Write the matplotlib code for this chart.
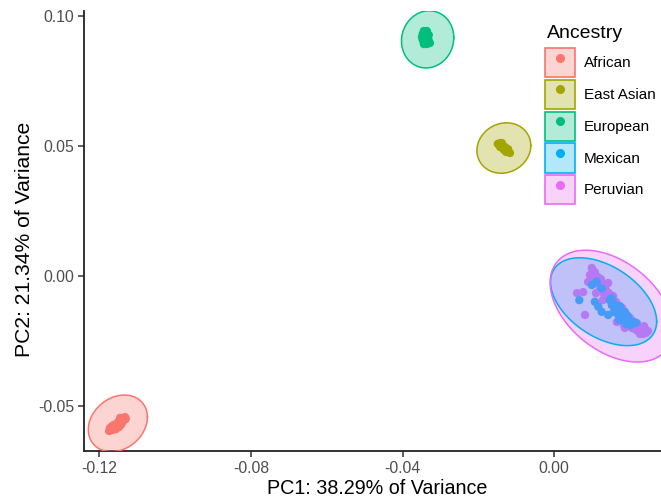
import numpy as np
import matplotlib
matplotlib.use("Agg")
import matplotlib.pyplot as plt
from matplotlib.patches import Patch
from matplotlib.lines import Line2D
from matplotlib.legend_handler import HandlerTuple
from matplotlib.colors import to_rgba

plt.rcParams['font.family'] = ['Liberation Sans', 'DejaVu Sans']
plt.rcParams['axes.unicode_minus'] = False

# ---------------- data ----------------
groups = ["African", "East Asian", "European", "Mexican", "Peruvian"]
colors = ["#F8766D", "#A3A500", "#00BF7D", "#00B0F6", "#E76BF3"]

african_pc1 = [-0.1169, -0.1164, -0.1159, -0.1161, -0.1153, -0.1148, -0.1151, -0.1145, -0.1140,
               -0.1143, -0.1137, -0.1132, -0.1135, -0.1156, -0.1166, -0.1148, -0.1140,
               -0.1174, -0.1172, -0.1151, -0.1143, -0.1130, -0.1145, -0.1164]
african_pc2 = [-0.0594, -0.0586, -0.0582, -0.0574, -0.0574, -0.0570, -0.0563, -0.0559, -0.0559,
               -0.0551, -0.0547, -0.0544, -0.0555, -0.0590, -0.0578, -0.0582, -0.0567,
               -0.0597, -0.0586, -0.0578, -0.0574, -0.0551, -0.0547, -0.0593]

eastasian_pc1 = [-0.0149, -0.0143, -0.0138, -0.0143, -0.0135, -0.0130, -0.0133, -0.0125, -0.0120,
                 -0.0127, -0.0122, -0.0138, -0.0117]
eastasian_pc2 = [0.0507, 0.0510, 0.0503, 0.0495, 0.0491, 0.0495, 0.0484, 0.0484, 0.0476,
                 0.0476, 0.0487, 0.0510, 0.0472]

european_pc1 = [-0.0344, -0.0336, -0.0347, -0.0339, -0.0331, -0.0349, -0.0341, -0.0333, -0.0347,
                -0.0339, -0.0331, -0.0344, -0.0336, -0.0328, -0.0341]
european_pc2 = [0.0941, 0.0941, 0.0930, 0.0930, 0.0926, 0.0918, 0.0918, 0.0914, 0.0907,
                0.0903, 0.0903, 0.0891, 0.0891, 0.0895, 0.0910]

mexican_pc1 = [0.0099, 0.0112, 0.0125, 0.0066, 0.0107, 0.0116, 0.0125, 0.0142, 0.0151, 0.0156,
               0.0173, 0.0182, 0.0195, 0.0208, 0.0186, 0.0169, 0.0178, 0.0164, 0.0146, 0.0191, 0.0200,
               0.0152, 0.0163, 0.0157, 0.0173, 0.0184, 0.0194, 0.0200, 0.0189, 0.0215, 0.0171]
mexican_pc2 = [-0.0036, -0.0023, -0.0049, -0.0094, -0.0100, -0.0119, -0.0139, -0.0151, -0.0087, -0.0106,
               -0.0132, -0.0158, -0.0170, -0.0177, -0.0139, -0.0151, -0.0170, -0.0119, -0.0094, -0.0183, -0.0190,
               -0.0113, -0.0124, -0.0140, -0.0117, -0.0147, -0.0155, -0.0178, -0.0186, -0.0182, -0.0170]

peruvian_pc1 = [0.0099, 0.0107, 0.0094, 0.0115, 0.0105, 0.0126, 0.0121, 0.0136, 0.0131, 0.0147,
                0.0157, 0.0152, 0.0168, 0.0179, 0.0173, 0.0189, 0.0200, 0.0194, 0.0210, 0.0221,
                0.0216, 0.0231, 0.0242, 0.0237, 0.0165, 0.0184, 0.0226, 0.0089, 0.0142, 0.0110,
                0.0060, 0.0076, 0.0081, 0.0128, 0.0205,
                0.0102, 0.0113, 0.0123, 0.0118, 0.0134, 0.0128, 0.0144, 0.0139, 0.0150, 0.0163,
                0.0160, 0.0171, 0.0181, 0.0176, 0.0192, 0.0202, 0.0208, 0.0218, 0.0229, 0.0239,
                0.0223, 0.0234, 0.0247, 0.0186, 0.0155]
peruvian_pc2 = [0.0030, 0.0014, 0.0003, -0.0005, -0.0017, -0.0028, -0.0047, -0.0055, -0.0070, -0.0078,
                -0.0094, -0.0113, -0.0113, -0.0124, -0.0147, -0.0147, -0.0163, -0.0182, -0.0178, -0.0194,
                -0.0209, -0.0209, -0.0220, -0.0194, -0.0178, -0.0190, -0.0224, -0.0024, -0.0028, -0.0067,
                -0.0067, -0.0063, -0.0151, -0.0094, -0.0201,
                0.0003, -0.0020, -0.0013, -0.0036, -0.0043, -0.0059, -0.0067, -0.0086, -0.0097, -0.0101,
                -0.0128, -0.0136, -0.0140, -0.0163, -0.0167, -0.0174, -0.0190, -0.0182, -0.0197, -0.0205,
                -0.0213, -0.0224, -0.0213, -0.0201, -0.0078]

pc1_values = [african_pc1, eastasian_pc1, european_pc1, mexican_pc1, peruvian_pc1]
pc2_values = [african_pc2, eastasian_pc2, european_pc2, mexican_pc2, peruvian_pc2]
point_order = [0, 1, 2, 4, 3]   # Mexican points sit on top of Peruvian points

# ellipse summaries per group: centre, half-extent in x and y, correlation
ell_cx = [-0.1151, -0.0133, -0.0334, 0.0130, 0.0151]
ell_cy = [-0.0568, 0.0491, 0.0909, -0.0100, -0.0117]
ell_wx = [0.0078, 0.0071, 0.0069, 0.0140, 0.0162]
ell_wy = [0.0109, 0.0097, 0.0110, 0.0169, 0.0215]
ell_r = [0.22, 0.10, 0.06, -0.45, -0.42]

xticks = [-0.12, -0.08, -0.04, 0.00]
yticks = [-0.05, 0.00, 0.05, 0.10]
xlabel = "PC1: 38.29% of Variance"
ylabel = "PC2: 21.34% of Variance"
legend_title = "Ancestry"

# ---------------- figure ----------------
W, H = 661, 500
fig = plt.figure(figsize=(W / 100, H / 100), dpi=100)
ax = fig.add_axes([84 / W, 49 / H, (671 - 84) / W, (451 - 11) / H])

for i in point_order:
    ax.scatter(pc1_values[i], pc2_values[i], s=36, color=colors[i], edgecolors='none', zorder=2)

t = np.linspace(0, 2 * np.pi, 300)
for cx, cy, wx, wy, r, c in zip(ell_cx, ell_cy, ell_wx, ell_wy, ell_r, colors):
    ex = cx + wx * np.cos(t)
    ey = cy + wy * (r * np.cos(t) + np.sqrt(1 - r * r) * np.sin(t))
    ax.fill(ex, ey, facecolor=to_rgba(c, 0.3), edgecolor='none', zorder=3)
    ax.plot(ex, ey, color=c, lw=1.1, zorder=4)

ax.set_xlim(-0.12403, 0.03078)
ax.set_ylim(-0.06742, 0.10181)
ax.set_xticks(xticks)
ax.set_yticks(yticks)
ax.set_xticklabels([f"{v:.2f}" for v in xticks])
ax.set_yticklabels([f"{v:.2f}" for v in yticks])

for s in ['top', 'right']:
    ax.spines[s].set_visible(False)
for s in ['left', 'bottom']:
    ax.spines[s].set_color('#222222')
    ax.spines[s].set_linewidth(1.3)
ax.tick_params(axis='both', length=4, width=1.1, color='#333333', labelcolor='#4D4D4D',
               labelsize=11.3, pad=3)

ax.set_xlabel(xlabel, fontsize=14.2, color='black', labelpad=2)
ax.set_ylabel(ylabel, fontsize=15.2, color='black')
ax.yaxis.set_label_coords((34 - 84) / 587, (451 - 239) / 440)

handles = []
for c in colors:
    p = Patch(facecolor=to_rgba(c, 0.3), edgecolor=c, linewidth=1.2)
    m = Line2D([], [], marker='o', ls='', color=c, markersize=5.5)
    handles.append((p, m))

fig.text(547 / W, 1 - 33 / H, legend_title, fontsize=14, va='center', ha='left')
leg = ax.legend(handles, groups, loc='upper left',
                bbox_to_anchor=(545 / W, 1 - 48 / H), bbox_transform=fig.transFigure,
                frameon=False, handler_map={tuple: HandlerTuple(ndivide=1, pad=0)},
                handlelength=1.95, handleheight=2.55, handletextpad=0.6, labelspacing=0.18,
                borderpad=0, borderaxespad=0, fontsize=11)

fig.savefig("out.png", dpi=100)
